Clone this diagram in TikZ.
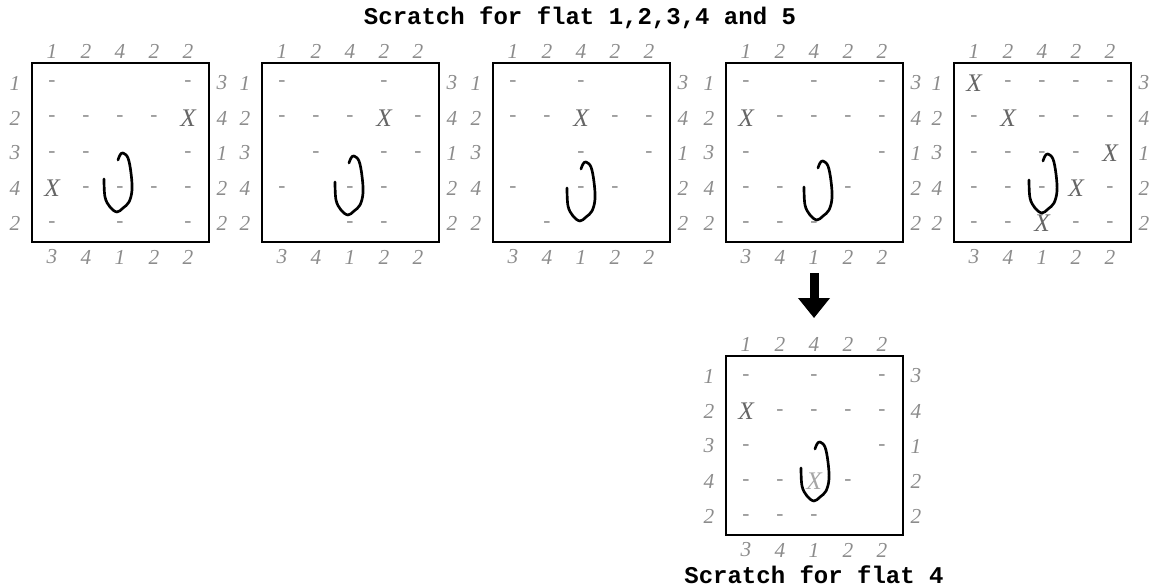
\documentclass[tikz,border=0pt]{standalone}
\usepackage{fontspec}
\setmainfont{Liberation Serif}
\setmonofont{Liberation Mono}
\usetikzlibrary{arrows.meta}
\definecolor{numgray}{gray}{0.55}
\tikzset{
  boxline/.style={line width=2.2pt},
  edgenum/.style={font=\fontsize{16}{16}\selectfont\itshape, text=numgray, inner sep=0pt},
  dashcell/.style={font=\fontsize{16}{16}\selectfont, text=numgray, inner sep=0pt, anchor=base},
  crosscell/.style={font=\fontsize{19}{19}\selectfont\itshape, inner sep=0pt},
  scrawl/.style={line width=2pt, line join=round, line cap=round},
  caption/.style={font=\ttfamily\bfseries\fontsize{18}{18}\selectfont, inner sep=0pt},
  bigarrow/.style={line width=6.75pt, -{Triangle[width=23pt,length=15pt]}}
}
% #1 name, #2 corner, #3 shift of the scrawl, #4 dashes c/r, #5 crosses c/r/shade
\newcommand{\flatbox}[5]{%
  \begin{scope}[shift={#2}]
    \draw[boxline] (0,0) rectangle (177,179);
    \foreach \v [count=\c] in {1,2,4,2,2}
      \node[edgenum] (#1-t\c) at (\c*34-14,-12) {\v};
    \foreach \v [count=\c] in {3,4,1,2,2}
      \node[edgenum] (#1-b\c) at (\c*34-14,194) {\v};
    \foreach \v [count=\r] in {1,2,3,4,2}
      \node[edgenum] (#1-l\r) at (-17,\r*35-15) {\v};
    \foreach \v [count=\r] in {3,4,1,2,2}
      \node[edgenum] (#1-r\r) at (190,\r*35-15) {\v};
    \foreach \c/\r in {#4}
      \node[dashcell] (#1-\c\r) at (\c*34-14,\r*35-11) {-};
    \foreach \c/\r/\g in {#5}
      \node[crosscell, text=black!\g] (#1-\c\r) at (\c*34-14,\r*35-15) {X};
    \draw[scrawl, shift={#3}] plot[smooth, tension=0.6] coordinates {(72,116) (73,134) (78,144) (85,149) (91,145) (97,139) (100,127) (99,110) (96,95) (91,90) (88,92) (86,97)};
  \end{scope}}

\begin{document}
\begin{tikzpicture}[x=0.75pt, y=-0.75pt]
\useasboundingbox (0,0) rectangle (1163,588);

\node[caption] (title) at (580,18) {Scratch for flat 1,2,3,4 and 5};

\flatbox{b1}{(32,63)}{(0,0)}
  {1/1,5/1, 1/2,2/2,3/2,4/2, 1/3,2/3,5/3, 2/4,3/4,4/4,5/4, 1/5,3/5,5/5}
  {5/2/60, 1/4/60}
\flatbox{b2}{(262,63)}{(1,3)}
  {1/1,4/1, 1/2,2/2,3/2,5/2, 2/3,4/3,5/3, 1/4,3/4,4/4, 3/5,4/5}
  {4/2/60}
\flatbox{b3}{(493,63)}{(2,9)}
  {1/1,3/1, 1/2,2/2,4/2,5/2, 3/3,5/3, 1/4,3/4,4/4, 2/5}
  {3/2/60}
\flatbox{b4}{(726,63)}{(6,8)}
  {1/1,3/1,5/1, 2/2,3/2,4/2,5/2, 1/3,5/3, 1/4,2/4,4/4, 1/5,2/5,3/5}
  {1/2/60}
\flatbox{b5}{(954,63)}{(3,1)}
  {2/1,3/1,4/1,5/1, 1/2,3/2,4/2,5/2, 1/3,2/3,3/3,4/3, 1/4,2/4,3/4,5/4, 1/5,2/5,4/5,5/5}
  {1/1/60, 2/2/60, 5/3/60, 4/4/60, 3/5/60}
\flatbox{b6}{(726,356)}{(3,-4)}
  {1/1,3/1,5/1, 2/2,3/2,4/2,5/2, 1/3,5/3, 1/4,2/4,4/4, 1/5,2/5,3/5}
  {1/2/60, 3/4/35}

\draw[bigarrow, shorten <=6.75pt, shorten >=14pt] (b4-b3) -- (b6-t3);

\node[caption] (subtitle) at (814,575) {Scratch for flat 4};
\end{tikzpicture}
\end{document}
